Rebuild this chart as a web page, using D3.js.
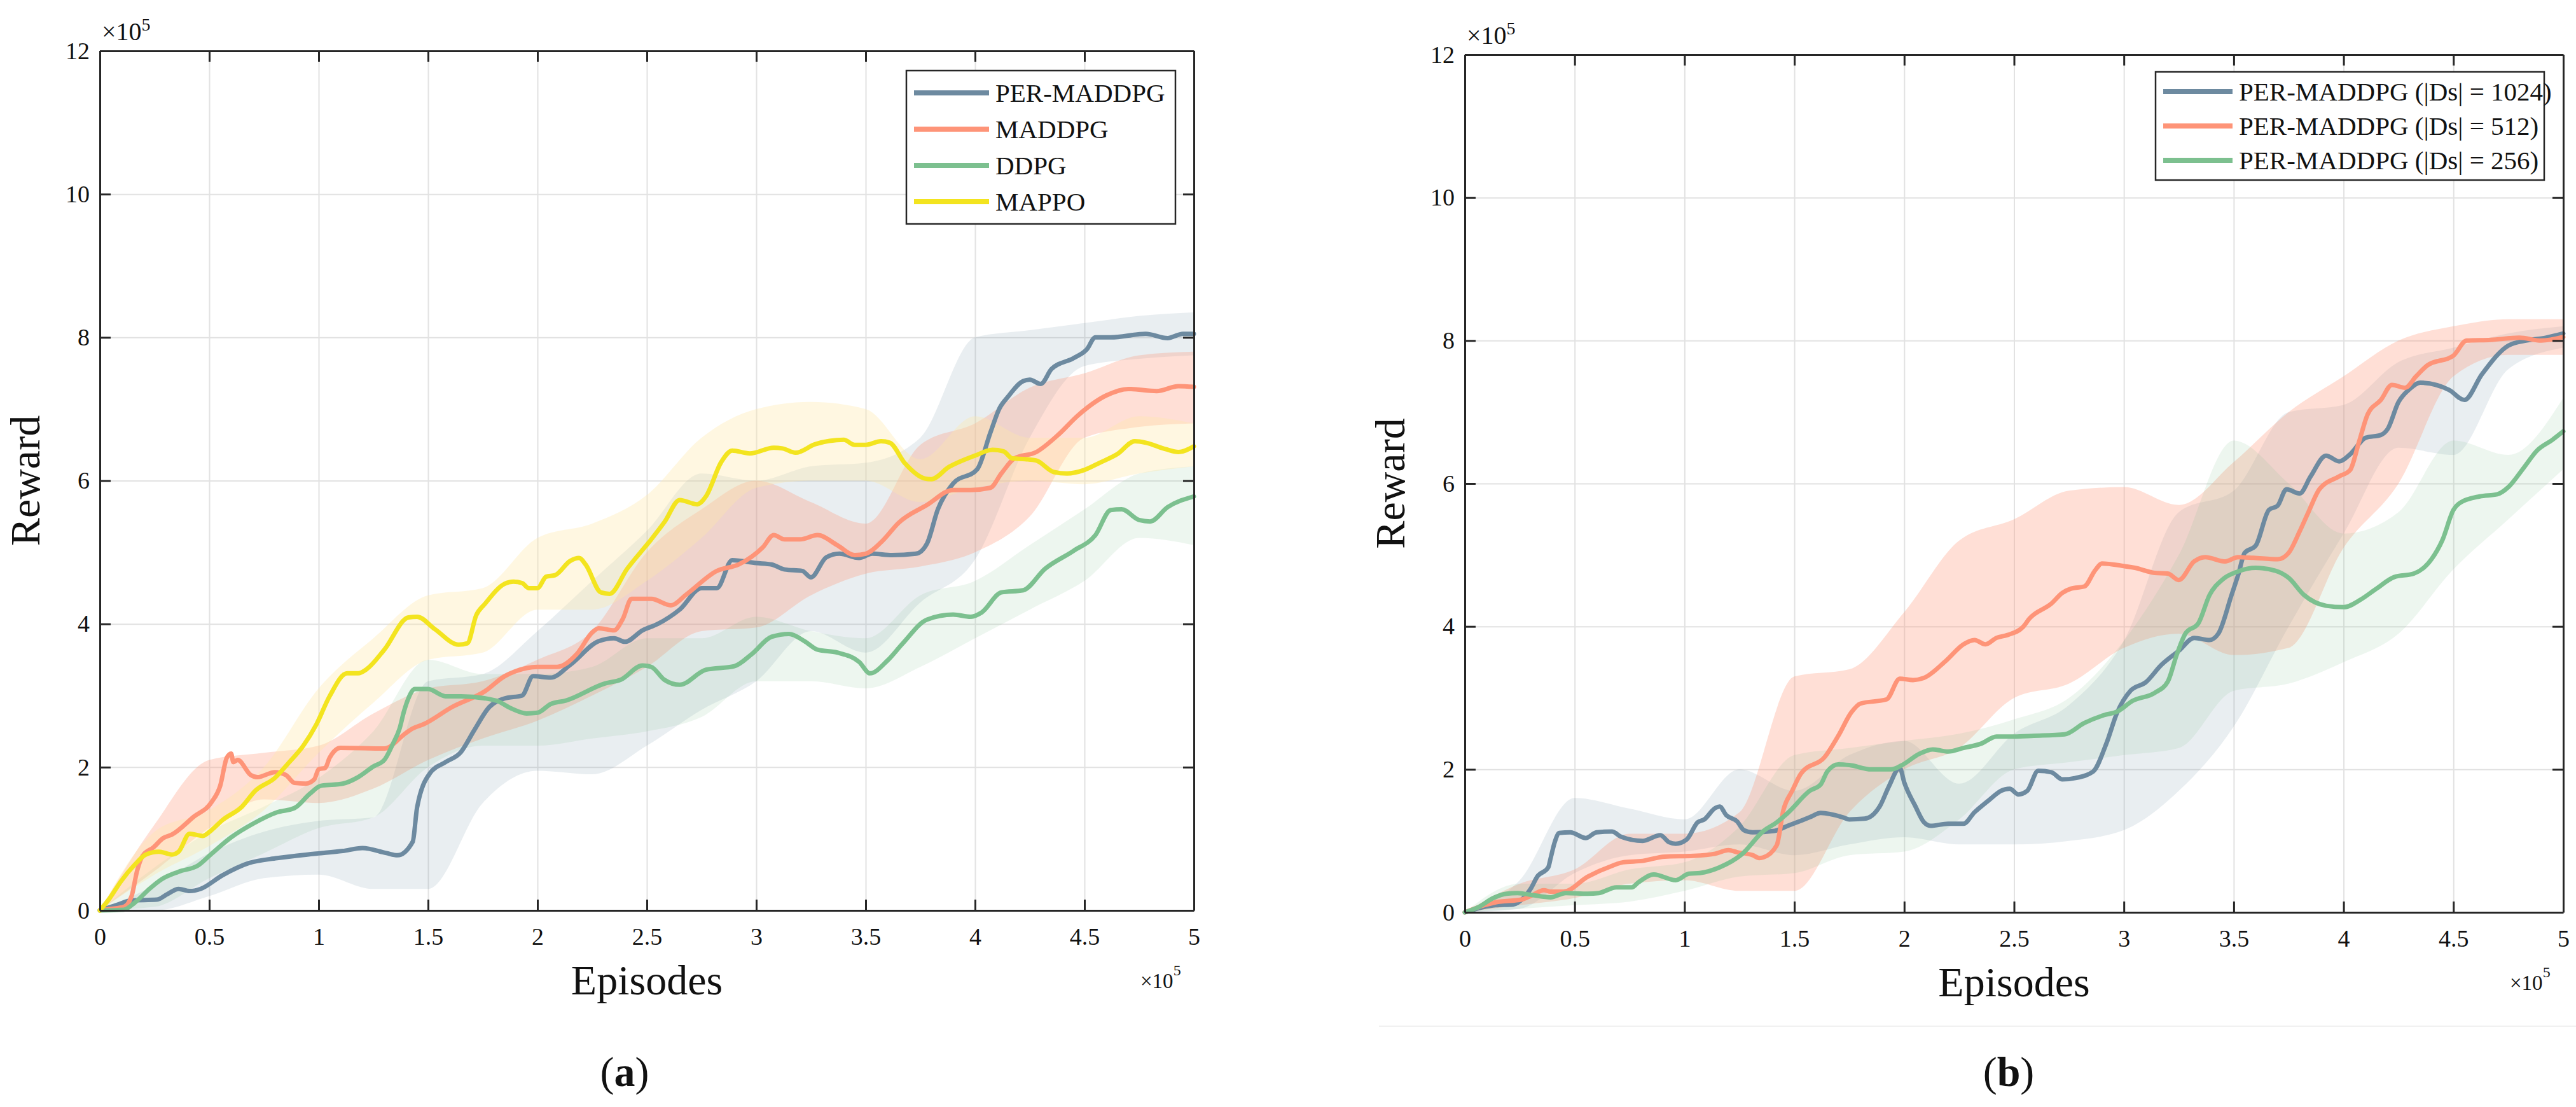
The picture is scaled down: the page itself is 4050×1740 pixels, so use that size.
<!DOCTYPE html>
<html>
<head>
<meta charset="utf-8">
<script src="https://cdn.jsdelivr.net/npm/d3@7"></script>
<style>
  body { margin: 0; background: #fff; }
  text { font-family: "Liberation Serif", "Times New Roman", serif; fill: #111; }
</style>
</head>
<body>
<svg id="svg" width="4050" height="1740"></svg>
<script>
// episodes and rewards are both in units of 1e5
var xTicks = [0, 0.5, 1, 1.5, 2, 2.5, 3, 3.5, 4, 4.5, 5];
var yTicks = [0, 2, 4, 6, 8, 10, 12];
var bandX = [0, 0.25, 0.5, 0.75, 1, 1.25, 1.5, 1.75, 2, 2.25, 2.5, 2.75, 3, 3.25, 3.5, 3.75, 4, 4.25, 4.5, 4.75, 5];

var namesA = ["PER-MADDPG", "MADDPG", "DDPG", "MAPPO"];
var namesB = ["PER-MADDPG (|Ds| = 1024)", "PER-MADDPG (|Ds| = 512)", "PER-MADDPG (|Ds| = 256)"];

// (a) mean curves
var perA = [[0,0],[.08,.08],[.145,.14],[.26,.15],[.31,.23],[.36,.30],[.41,.27],[.46,.30],[.56,.49],[.68,.66],[.81,.73],[.98,.79],[1.11,.83],[1.20,.87],[1.31,.80],[1.36,.77],[1.43,.96],[1.45,1.44],[1.51,1.92],[1.58,2.07],[1.65,2.21],[1.71,2.51],[1.78,2.84],[1.85,2.96],[1.93,3.00],[1.98,3.27],[2.06,3.25],[2.15,3.43],[2.28,3.76],[2.35,3.80],[2.40,3.75],[2.48,3.91],[2.55,4.0],[2.65,4.2],[2.75,4.5],[2.82,4.5],[2.89,4.89],[3.0,4.85],[3.07,4.83],[3.13,4.76],[3.21,4.74],[3.25,4.65],[3.32,4.93],[3.38,4.98],[3.47,4.92],[3.53,4.98],[3.62,4.96],[3.73,4.98],[3.78,5.12],[3.83,5.6],[3.90,5.96],[4.01,6.16],[4.07,6.67],[4.11,7.0],[4.15,7.17],[4.22,7.39],[4.25,7.41],[4.30,7.35],[4.35,7.56],[4.45,7.71],[4.51,7.83],[4.55,8.0],[4.62,8.0],[4.78,8.05],[4.88,7.99],[4.95,8.05],[5.0,8.05]];
var maddpgA = [[0,0],[.045,.02],[.11,.05],[.145,.2],[.17,.55],[.195,.76],[.245,.88],[.29,1.01],[.33,1.06],[.43,1.31],[.51,1.51],[.55,1.74],[.58,2.13],[.60,2.19],[.61,2.07],[.63,2.10],[.69,1.89],[.72,1.86],[.80,1.93],[.85,1.89],[.89,1.78],[.94,1.77],[.98,1.83],[1.00,1.97],[1.03,1.99],[1.05,2.13],[1.10,2.27],[1.30,2.26],[1.40,2.48],[1.43,2.54],[1.48,2.60],[1.61,2.84],[1.76,3.06],[1.85,3.27],[1.90,3.34],[2.00,3.40],[2.09,3.40],[2.18,3.58],[2.25,3.88],[2.28,3.94],[2.35,3.91],[2.39,4.07],[2.43,4.35],[2.52,4.35],[2.61,4.26],[2.68,4.41],[2.82,4.74],[2.92,4.83],[3.03,5.07],[3.08,5.24],[3.13,5.18],[3.20,5.18],[3.28,5.24],[3.37,5.10],[3.45,4.96],[3.50,4.98],[3.58,5.17],[3.65,5.41],[3.78,5.66],[3.90,5.87],[3.98,5.87],[4.07,5.90],[4.12,6.10],[4.18,6.31],[4.28,6.40],[4.38,6.64],[4.47,6.91],[4.60,7.19],[4.70,7.28],[4.83,7.25],[4.93,7.32],[5.0,7.31]];
var ddpgA = [[0,0],[.11,.01],[.16,.11],[.23,.31],[.28,.43],[.36,.54],[.45,.63],[.51,.79],[.60,1.02],[.70,1.21],[.81,1.37],[.89,1.43],[.96,1.63],[1.01,1.74],[1.11,1.77],[1.18,1.86],[1.25,2.01],[1.30,2.10],[1.34,2.33],[1.37,2.54],[1.39,2.78],[1.41,2.96],[1.44,3.09],[1.50,3.09],[1.58,2.99],[1.65,2.99],[1.81,2.93],[1.88,2.82],[1.95,2.75],[2.00,2.76],[2.06,2.88],[2.13,2.93],[2.31,3.17],[2.38,3.22],[2.48,3.42],[2.52,3.40],[2.58,3.22],[2.65,3.15],[2.77,3.36],[2.90,3.41],[2.98,3.58],[3.07,3.82],[3.15,3.86],[3.22,3.76],[3.28,3.64],[3.37,3.60],[3.47,3.47],[3.52,3.31],[3.60,3.49],[3.67,3.73],[3.78,4.06],[3.90,4.13],[3.98,4.10],[4.03,4.16],[4.12,4.44],[4.22,4.47],[4.32,4.77],[4.45,5.02],[4.55,5.24],[4.62,5.59],[4.67,5.60],[4.75,5.45],[4.80,5.43],[4.88,5.63],[5.0,5.78]];
var mappoA = [[0,0],[.045,.17],[.095,.40],[.16,.64],[.21,.78],[.27,.82],[.33,.78],[.36,.82],[.41,1.07],[.47,1.04],[.51,1.12],[.56,1.26],[.65,1.45],[.71,1.67],[.80,1.85],[.86,2.05],[.93,2.30],[.99,2.60],[1.05,2.99],[1.13,3.31],[1.18,3.31],[1.22,3.37],[1.30,3.64],[1.41,4.09],[1.45,4.10],[1.53,3.93],[1.64,3.71],[1.68,3.73],[1.72,4.12],[1.76,4.28],[1.85,4.56],[1.89,4.59],[1.93,4.57],[1.96,4.50],[2.00,4.50],[2.04,4.66],[2.08,4.68],[2.15,4.88],[2.19,4.92],[2.22,4.83],[2.29,4.44],[2.33,4.42],[2.41,4.77],[2.52,5.18],[2.58,5.42],[2.65,5.73],[2.73,5.67],[2.77,5.78],[2.84,6.26],[2.89,6.42],[2.97,6.38],[3.08,6.46],[3.12,6.45],[3.18,6.39],[3.27,6.51],[3.40,6.57],[3.45,6.50],[3.50,6.50],[3.57,6.55],[3.61,6.53],[3.68,6.24],[3.77,6.03],[3.80,6.02],[3.88,6.19],[4.00,6.35],[4.08,6.43],[4.13,6.41],[4.17,6.31],[4.23,6.30],[4.28,6.28],[4.36,6.12],[4.42,6.10],[4.50,6.15],[4.57,6.25],[4.65,6.37],[4.73,6.55],[4.78,6.53],[4.87,6.44],[4.93,6.40],[5.0,6.48]];

// (a) shaded ranges on bandX
var perA_hi    = [0, .35, .8, 1.1, 1.25, 1.3, 3.2, 3.3, 3.9, 4.6, 5.3, 6.1, 6.0, 6.2, 6.25, 6.6, 8.0, 8.1, 8.2, 8.3, 8.35];
var perA_lo    = [0, 0, .2, .45, .5, .3, .3, 1.5, 1.95, 1.9, 2.3, 2.8, 3.2, 3.9, 3.6, 4.3, 4.9, 6.6, 7.6, 7.7, 7.75];
var maddpgA_hi = [0, 1.2, 2.1, 2.2, 2.3, 2.75, 3.1, 3.2, 3.5, 3.9, 5.0, 5.6, 6.0, 5.7, 5.4, 6.5, 6.8, 7.3, 7.5, 7.75, 7.8];
var maddpgA_lo = [0, .55, 1.15, 1.55, 1.5, 1.7, 2.1, 2.4, 2.65, 3.0, 3.4, 3.9, 3.95, 4.4, 4.7, 4.8, 5.0, 5.5, 6.6, 6.75, 6.8];
var ddpgA_hi   = [0, .6, 1.1, 1.45, 1.85, 2.5, 3.5, 3.3, 3.3, 3.4, 3.8, 3.8, 4.1, 3.9, 3.8, 4.4, 4.6, 5.1, 5.6, 6.1, 6.2];
var ddpgA_lo   = [0, .05, .45, .8, 1.15, 1.3, 2.0, 2.3, 2.3, 2.4, 2.5, 2.7, 3.2, 3.2, 3.1, 3.4, 3.8, 4.2, 4.6, 5.2, 5.1];
var mappoA_hi  = [0, 1.1, 1.4, 2.0, 3.1, 3.8, 4.4, 4.5, 5.2, 5.4, 5.8, 6.6, 7.0, 7.1, 7.0, 6.3, 6.9, 6.6, 6.6, 6.9, 6.8];
var mappoA_lo  = [0, .5, .9, 1.4, 2.2, 2.9, 3.5, 3.6, 4.2, 4.2, 4.6, 5.2, 5.9, 6.0, 6.0, 5.7, 5.9, 6.0, 5.95, 6.1, 6.2];

// (b) mean curves
var ds1024 = [[0,0],[.08,.07],[.14,.10],[.22,.11],[.27,.21],[.30,.33],[.33,.50],[.38,.63],[.39,.75],[.41,.99],[.43,1.11],[.48,1.12],[.55,1.04],[.60,1.12],[.67,1.13],[.71,1.06],[.81,1.00],[.89,1.08],[.93,.98],[.96,.96],[1.01,1.02],[1.06,1.26],[1.09,1.30],[1.14,1.46],[1.16,1.48],[1.19,1.36],[1.24,1.27],[1.27,1.15],[1.31,1.12],[1.41,1.14],[1.47,1.21],[1.57,1.33],[1.62,1.39],[1.72,1.33],[1.75,1.30],[1.82,1.31],[1.89,1.49],[1.93,1.76],[1.98,2.02],[2.00,1.82],[2.05,1.49],[2.09,1.26],[2.12,1.21],[2.20,1.24],[2.27,1.24],[2.32,1.40],[2.35,1.48],[2.39,1.58],[2.44,1.70],[2.48,1.73],[2.52,1.65],[2.56,1.70],[2.61,1.98],[2.67,1.96],[2.72,1.86],[2.78,1.88],[2.86,1.97],[2.92,2.36],[2.97,2.80],[3.03,3.10],[3.10,3.22],[3.17,3.46],[3.25,3.66],[3.32,3.84],[3.39,3.81],[3.43,3.90],[3.49,4.44],[3.52,4.72],[3.55,5.03],[3.60,5.13],[3.66,5.63],[3.70,5.69],[3.74,5.92],[3.80,5.86],[3.85,6.10],[3.92,6.39],[3.98,6.31],[4.03,6.41],[4.10,6.64],[4.17,6.68],[4.20,6.76],[4.25,7.14],[4.30,7.32],[4.35,7.41],[4.48,7.31],[4.55,7.17],[4.63,7.53],[4.75,7.93],[4.83,8.0],[4.92,8.04],[5.0,8.10]];
var ds512 = [[0,0],[.09,.10],[.14,.14],[.26,.18],[.30,.23],[.36,.31],[.39,.29],[.45,.29],[.56,.50],[.67,.65],[.72,.70],[.81,.72],[.91,.78],[1.04,.79],[1.14,.82],[1.20,.87],[1.24,.84],[1.31,.80],[1.34,.76],[1.36,.77],[1.42,.94],[1.45,1.43],[1.49,1.70],[1.53,1.94],[1.64,2.18],[1.70,2.47],[1.76,2.80],[1.80,2.92],[1.92,2.98],[1.98,3.27],[2.04,3.25],[2.09,3.28],[2.19,3.52],[2.27,3.75],[2.32,3.81],[2.37,3.75],[2.42,3.84],[2.47,3.88],[2.54,3.99],[2.57,4.11],[2.67,4.32],[2.72,4.47],[2.76,4.53],[2.82,4.56],[2.87,4.79],[2.90,4.88],[2.99,4.85],[3.05,4.82],[3.14,4.75],[3.20,4.74],[3.25,4.65],[3.32,4.91],[3.37,4.97],[3.46,4.91],[3.52,4.97],[3.59,4.96],[3.70,4.94],[3.75,5.03],[3.80,5.33],[3.84,5.60],[3.89,5.92],[3.98,6.10],[4.03,6.19],[4.07,6.58],[4.11,6.97],[4.17,7.17],[4.22,7.38],[4.28,7.34],[4.33,7.50],[4.38,7.65],[4.50,7.79],[4.56,8.0],[4.67,8.01],[4.80,8.04],[4.90,8.0],[5.0,8.05]];
var ds256 = [[0,0],[.06,.07],[.13,.20],[.19,.26],[.24,.27],[.31,.24],[.39,.21],[.46,.27],[.56,.26],[.61,.27],[.69,.35],[.76,.35],[.79,.42],[.86,.53],[.96,.45],[1.02,.54],[1.07,.55],[1.16,.63],[1.26,.81],[1.36,1.14],[1.42,1.26],[1.47,1.39],[1.57,1.70],[1.62,1.79],[1.65,1.97],[1.70,2.07],[1.75,2.06],[1.85,2.00],[1.94,2.00],[1.99,2.06],[2.07,2.22],[2.13,2.28],[2.20,2.25],[2.27,2.30],[2.35,2.36],[2.42,2.46],[2.50,2.46],[2.59,2.47],[2.73,2.49],[2.82,2.65],[2.91,2.76],[2.97,2.81],[3.04,2.96],[3.14,3.07],[3.20,3.23],[3.24,3.60],[3.28,3.90],[3.34,4.05],[3.39,4.44],[3.45,4.66],[3.52,4.77],[3.60,4.82],[3.69,4.78],[3.75,4.68],[3.82,4.44],[3.92,4.29],[4.00,4.27],[4.08,4.38],[4.15,4.53],[4.23,4.69],[4.32,4.74],[4.40,4.94],[4.45,5.21],[4.50,5.63],[4.53,5.73],[4.62,5.82],[4.70,5.85],[4.75,5.95],[4.82,6.22],[4.88,6.46],[4.95,6.61],[5.0,6.73]];

// (b) shaded ranges on bandX
var ds1024_hi = [0, .45, 1.6, 1.45, 1.3, 2.0, 1.7, 2.2, 2.4, 1.8, 2.5, 2.9, 3.8, 5.6, 5.9, 7.0, 7.1, 7.7, 7.9, 8.1, 8.2];
var ds1024_lo = [0, .05, .55, .8, .85, .95, .8, .95, 1.05, .95, .95, 1.0, 1.15, 1.7, 2.6, 4.0, 5.3, 6.5, 6.4, 7.6, 7.9];
var ds512_hi  = [0, .4, .6, 1.1, 1.1, 1.4, 3.3, 3.4, 4.2, 5.2, 5.5, 5.9, 5.95, 5.7, 6.3, 7.0, 7.5, 8.0, 8.2, 8.3, 8.3];
var ds512_lo  = [0, .1, .2, .4, .45, .3, .3, 1.4, 2.0, 2.3, 3.0, 3.2, 3.7, 3.9, 3.6, 3.7, 5.1, 6.0, 7.5, 7.8, 7.8];
var ds256_hi  = [0, .4, .4, .6, .7, 1.2, 2.2, 2.3, 2.4, 2.5, 2.7, 3.0, 3.8, 5.0, 6.6, 6.0, 5.3, 5.6, 6.6, 6.4, 7.2];
var ds256_lo  = [0, .05, .1, .15, .3, .5, .55, .8, .85, 1.3, 2.0, 2.1, 2.2, 2.3, 3.1, 3.2, 3.5, 3.9, 4.8, 5.5, 6.2];

var colBlue = "#6d8aa0", colSalmon = "#fe9478", colGreen = "#7cc08f", colYellow = "#f3e41f";

var svg = d3.select("#svg");
svg.append("rect").attr("width", 4050).attr("height", 1740).attr("fill", "#fff");

function drawPanel(p) {
    var x = d3.scaleLinear().domain([0, 5]).range([p.left, p.right]);
    var y = d3.scaleLinear().domain([0, 12]).range([p.bottom, p.top]);
    var w = p.right - p.left, h = p.bottom - p.top;
    var g = svg.append("g");

    // grid
    g.append("g").attr("transform", "translate(0," + p.bottom + ")")
        .call(d3.axisBottom(x).tickValues(xTicks).tickSize(-h).tickFormat(""))
        .call(function (s) { s.select(".domain").remove(); s.selectAll("line").attr("stroke", "#e2e2e2").attr("stroke-width", 2); });
    g.append("g").attr("transform", "translate(" + p.left + ",0)")
        .call(d3.axisLeft(y).tickValues(yTicks).tickSize(-w).tickFormat(""))
        .call(function (s) { s.select(".domain").remove(); s.selectAll("line").attr("stroke", "#e2e2e2").attr("stroke-width", 2); });

    // shaded ranges
    p.series.forEach(function (s) {
        var area = d3.area()
            .x(function (d, i) { return x(bandX[i]); })
            .y0(function (d, i) { return y(s.lo[i]); })
            .y1(function (d, i) { return y(s.hi[i]); })
            .curve(d3.curveMonotoneX);
        g.append("path").attr("d", area(s.hi))
            .attr("fill", s.band).attr("fill-opacity", s.bandOp).attr("stroke", "none");
    });

    // mean curves
    var line = d3.line().x(function (d) { return x(d[0]); }).y(function (d) { return y(d[1]); })
        .curve(d3.curveMonotoneX);
    p.series.forEach(function (s) {
        g.append("path").attr("d", line(s.data)).attr("fill", "none")
            .attr("stroke", s.color).attr("stroke-width", 7)
            .attr("stroke-linejoin", "round").attr("stroke-linecap", "round");
    });

    // axes box with inward ticks
    function styleAxis(s) {
        s.select(".domain").attr("stroke", "#262626").attr("stroke-width", 3);
        s.selectAll(".tick line").attr("stroke", "#262626").attr("stroke-width", 3);
        s.selectAll(".tick text").attr("font-family", "Liberation Serif").attr("font-size", 38).attr("fill", "#111");
    }
    var fmt = function (d) { return String(+d.toFixed(1)); };
    g.append("g").attr("transform", "translate(0," + p.bottom + ")")
        .call(d3.axisBottom(x).tickValues(xTicks).tickSize(-17).tickSizeOuter(0).tickPadding(27).tickFormat(fmt)).call(styleAxis);
    g.append("g").attr("transform", "translate(0," + p.top + ")")
        .call(d3.axisTop(x).tickValues(xTicks).tickSize(-17).tickSizeOuter(0).tickFormat("")).call(styleAxis);
    g.append("g").attr("transform", "translate(" + p.left + ",0)")
        .call(d3.axisLeft(y).tickValues(yTicks).tickSize(-17).tickSizeOuter(0).tickPadding(16).tickFormat(fmt)).call(styleAxis);
    g.append("g").attr("transform", "translate(" + p.right + ",0)")
        .call(d3.axisRight(y).tickValues(yTicks).tickSize(-17).tickSizeOuter(0).tickFormat("")).call(styleAxis);

    // exponent labels
    var e1 = g.append("text").attr("x", p.left + 3).attr("y", p.top - 17).attr("font-size", 40);
    e1.append("tspan").text("\u00d710");
    e1.append("tspan").attr("font-size", 28).attr("dy", -15).text("5");
    var e2 = g.append("text").attr("x", p.right - 84).attr("y", p.bottom + 122).attr("font-size", 33);
    e2.append("tspan").text("\u00d710");
    e2.append("tspan").attr("font-size", 24).attr("dy", -20).text("5");

    // axis titles
    g.append("text").attr("x", (p.left + p.right) / 2).attr("y", p.bottom + 132)
        .attr("text-anchor", "middle").attr("font-size", 66).text("Episodes");
    g.append("text").attr("transform", "translate(" + (p.left - 95) + "," + ((p.top + p.bottom) / 2) + ") rotate(-90)")
        .attr("text-anchor", "middle").attr("font-size", 66).text("Reward");

    // legend
    var L = p.legend;
    g.append("rect").attr("x", L.x).attr("y", L.y).attr("width", L.w).attr("height", L.h)
        .attr("fill", "#fff").attr("stroke", "#262626").attr("stroke-width", 2.5);
    p.series.forEach(function (s, i) {
        var yy = L.y + L.first + i * L.step;
        g.append("line").attr("x1", L.x + 12).attr("x2", L.x + 12 + L.len).attr("y1", yy).attr("y2", yy)
            .attr("stroke", s.color).attr("stroke-width", 8);
        g.append("text").attr("x", L.x + 22 + L.len).attr("y", yy).attr("dy", "0.35em")
            .attr("font-size", 41).text(s.name);
    });

    // panel caption
    var cap = g.append("text").attr("x", p.capX).attr("y", 1707).attr("text-anchor", "middle").attr("font-size", 66);
    cap.append("tspan").text("(");
    cap.append("tspan").attr("font-weight", "bold").text(p.cap);
    cap.append("tspan").text(")");
}

drawPanel({
    left: 157, right: 1877, top: 80, bottom: 1431, capX: 982, cap: "a",
    legend: { x: 1425, y: 111, w: 423, h: 241, first: 35, step: 57, len: 118 },
    series: [
        { name: namesA[0], data: perA, hi: perA_hi, lo: perA_lo, color: colBlue, band: colBlue, bandOp: 0.15 },
        { name: namesA[1], data: maddpgA, hi: maddpgA_hi, lo: maddpgA_lo, color: colSalmon, band: colSalmon, bandOp: 0.3 },
        { name: namesA[2], data: ddpgA, hi: ddpgA_hi, lo: ddpgA_lo, color: colGreen, band: colGreen, bandOp: 0.14 },
        { name: namesA[3], data: mappoA, hi: mappoA_hi, lo: mappoA_lo, color: colYellow, band: "#ffe9a8", bandOp: 0.35 }
    ]
});

drawPanel({
    left: 2303, right: 4030, top: 86, bottom: 1434, capX: 3158, cap: "b",
    legend: { x: 3389, y: 113, w: 611, h: 170, first: 31, step: 54, len: 109 },
    series: [
        { name: namesB[0], data: ds1024, hi: ds1024_hi, lo: ds1024_lo, color: colBlue, band: colBlue, bandOp: 0.15 },
        { name: namesB[1], data: ds512, hi: ds512_hi, lo: ds512_lo, color: colSalmon, band: colSalmon, bandOp: 0.3 },
        { name: namesB[2], data: ds256, hi: ds256_hi, lo: ds256_lo, color: colGreen, band: colGreen, bandOp: 0.14 }
    ]
});

// faint separator under the right panel
svg.append("line").attr("x1", 2168).attr("x2", 4050).attr("y1", 1613).attr("y2", 1613)
    .attr("stroke", "#f1f1f1").attr("stroke-width", 2);
</script>
</body>
</html>
